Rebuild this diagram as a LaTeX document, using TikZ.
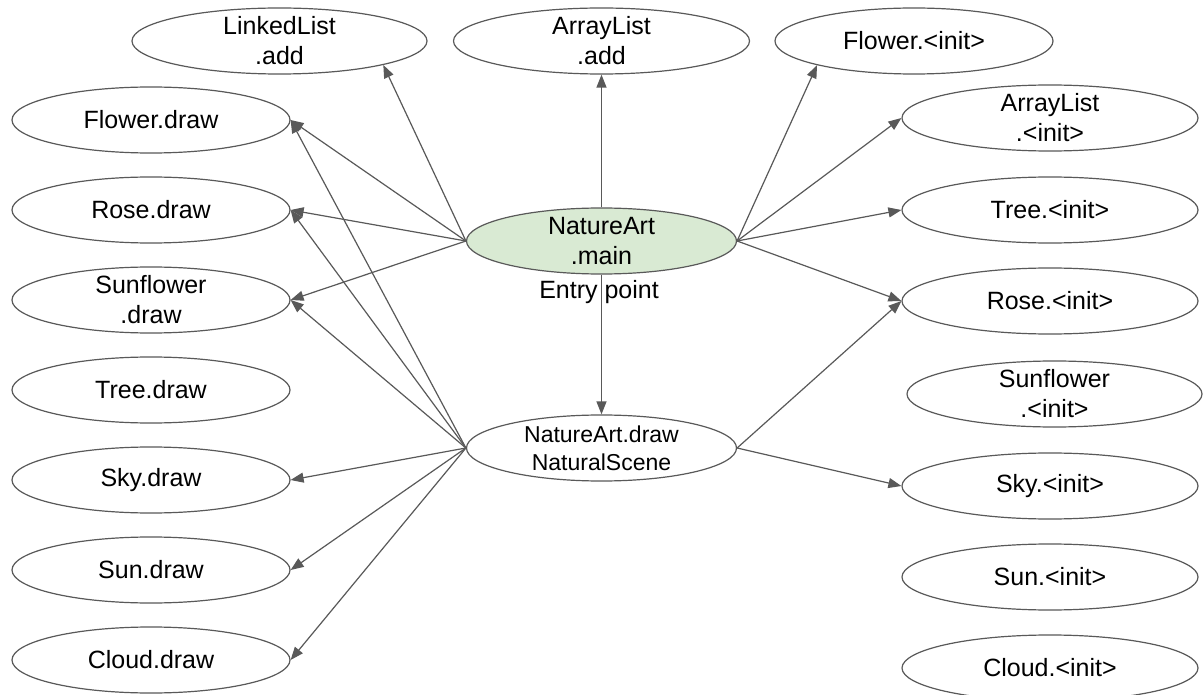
\documentclass[tikz,border=0pt]{standalone}
\usepackage{fontspec}
\setmainfont{Liberation Sans}
\usetikzlibrary{shapes.geometric,arrows.meta}
\definecolor{edgegray}{HTML}{595959}
\definecolor{maingreen}{HTML}{D9EAD3}
\begin{document}
\begin{tikzpicture}[x=1pt,y=-1pt,
  box/.style={ellipse, draw=edgegray, line width=1.2pt, minimum width=278pt,
    minimum height=66pt, inner sep=0pt, inner ysep=-12pt, align=center,
    font=\fontsize{25}{30}\selectfont},
  wide/.style={minimum width=296pt},
  mid/.style={minimum width=270pt},
  arr/.style={draw=edgegray, line width=1.2pt, -{Triangle[length=13pt,width=10pt]}},
  lbl/.style={inner sep=0pt, font=\fontsize{25}{30}\selectfont}
]
\fill[white] (0,0) rectangle (1203,695);
\path[use as bounding box] (0,0) rectangle (1203,695);

% top row
\node[box, minimum width=295pt] (ll) at (279.5,41) {LinkedList\\.add};
\node[box, wide] (aladd) at (601.5,41) {ArrayList\\.add};
\node[box] (fi) at (914,41) {Flower.<init>};

% left column
\node[box] (fd)  at (151,120) {Flower.draw};
\node[box] (rd)  at (151,210) {Rose.draw};
\node[box] (sfd) at (151,300) {Sunflower\\.draw};
\node[box] (td)  at (151,390) {Tree.draw};
\node[box] (skd) at (151,480) {Sky.draw};
\node[box] (snd) at (151,570) {Sun.draw};
\node[box] (cd)  at (151,660) {Cloud.draw};

% right column
\node[box, wide] (ali) at (1050,118) {ArrayList\\.<init>};
\node[box, wide] (ti)  at (1050,210) {Tree.<init>};
\node[box, wide] (ri)  at (1050,301) {Rose.<init>};
\node[box, minimum width=295pt] (sfi) at (1054.5,394) {Sunflower\\.<init>};
\node[box, wide] (ski) at (1050,486) {Sky.<init>};
\node[box, wide] (sni) at (1050,577) {Sun.<init>};
\node[box, wide] (ci)  at (1050,668) {Cloud.<init>};

% centre
\node[box, mid, fill=maingreen] (main) at (601.5,241) {NatureArt\\.main};
\node[lbl] (entry) at (599,292) {Entry point};
\node[box, mid, font=\fontsize{23}{28.3}\selectfont] (drw) at (601.5,448) {NatureArt.draw\\NaturalScene};

% edges from main
\draw[arr] (main.west) -- (ll.-13);
\draw[arr] (main.north) -- (aladd.south);
\draw[arr] (main.east) -- (fi.-166);
\draw[arr] (main.west) -- (fd.east);
\draw[arr] (main.west) -- (rd.east);
\draw[arr] (main.west) -- (sfd.east);
\draw[arr] (main.east) -- (ali.west);
\draw[arr] (main.east) -- (ti.west);
\draw[arr] (main.east) -- (ri.west);
\draw[arr] (main.south) -- (drw.north);

% edges from NatureArt.draw
\draw[arr] (drw.west) -- (fd.east);
\draw[arr] (drw.west) -- (rd.east);
\draw[arr] (drw.west) -- (sfd.east);
\draw[arr] (drw.west) -- (skd.east);
\draw[arr] (drw.west) -- (snd.east);
\draw[arr] (drw.west) -- (cd.east);
\draw[arr] (drw.east) -- (ri.west);
\draw[arr] (drw.east) -- (ski.west);
\end{tikzpicture}
\end{document}
